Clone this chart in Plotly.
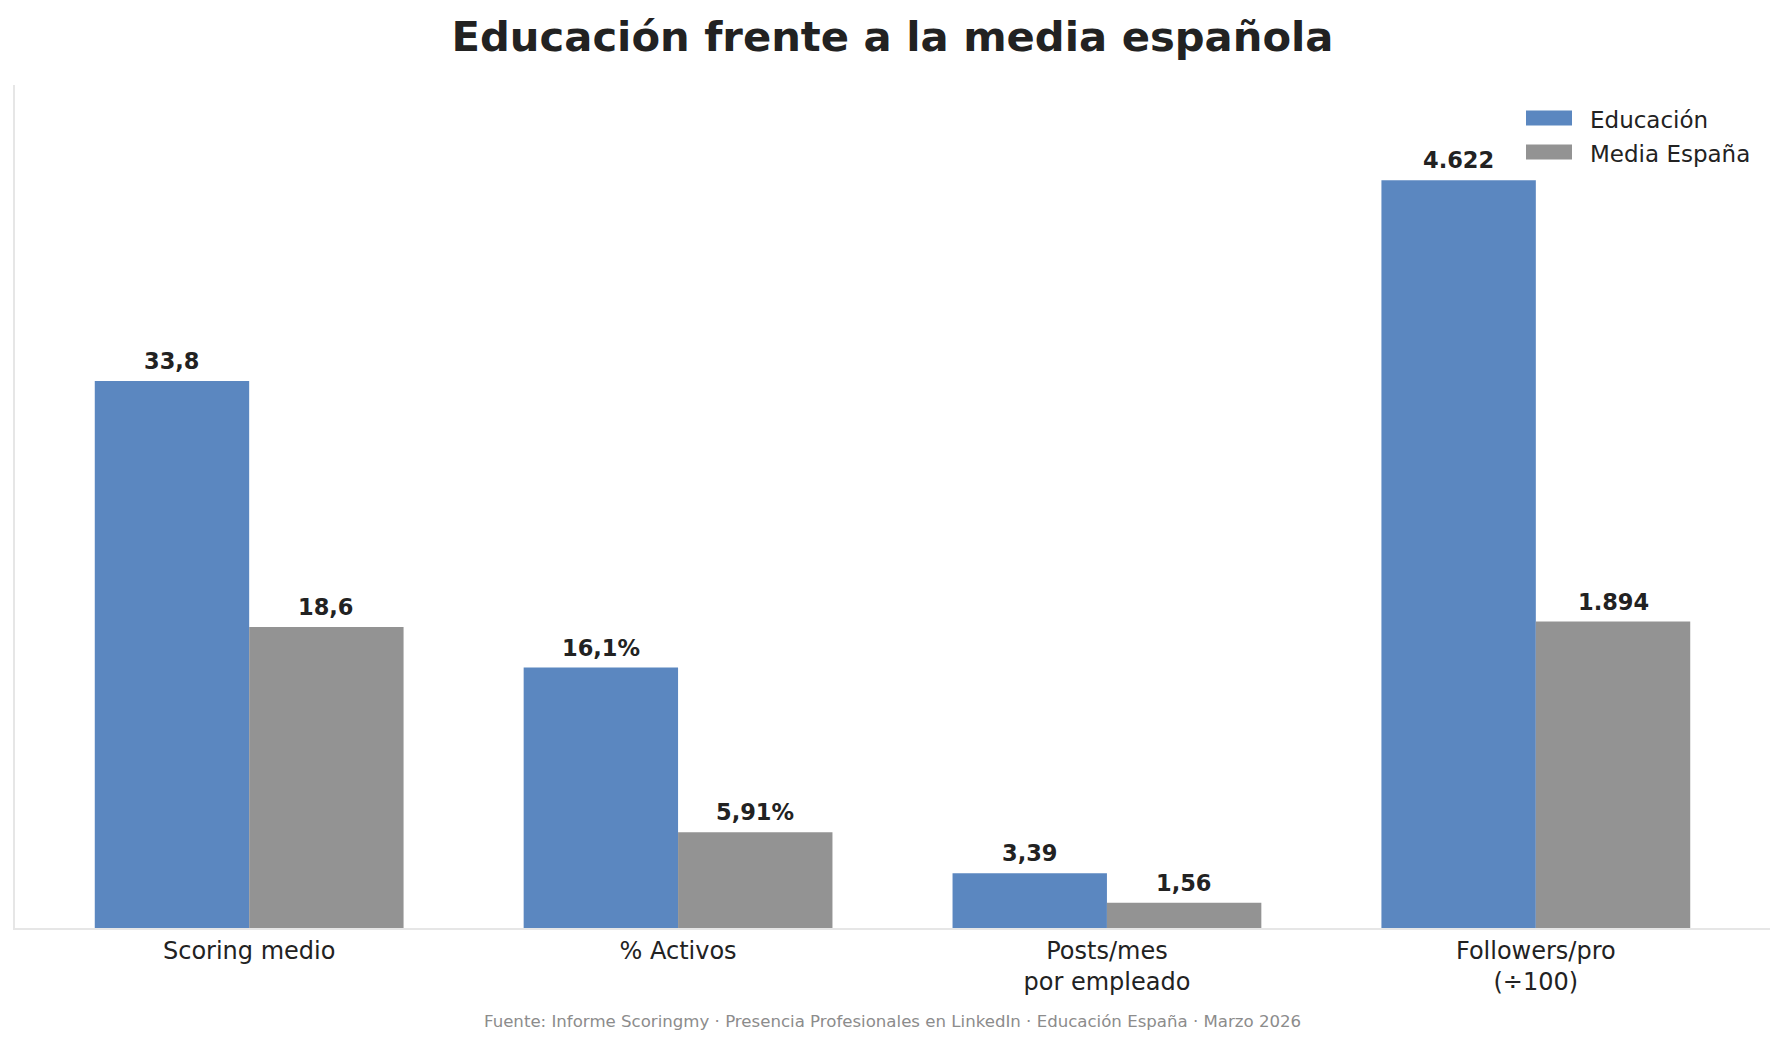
import plotly.graph_objects as go

categories = ["Scoring medio", "% Activos", "Posts/mes<br>por empleado", "Followers/pro<br>(÷100)"]
educacion = [33.8, 16.1, 3.39, 46.22]
media_espana = [18.6, 5.91, 1.56, 18.94]
educacion_labels = ["33,8", "16,1%", "3,39", "4.622"]
media_labels = ["18,6", "5,91%", "1,56", "1.894"]
series_names = ["Educación", "Media España"]
title_text = "Educación frente a la media española"
footer_text = "Fuente: Informe Scoringmy · Presencia Profesionales en LinkedIn · Educación España · Marzo 2026"

BLUE = "#5B87C0"
GREY = "#939393"
FONT = "DejaVu Sans"
W, H = 1785, 1045
L, R, T, B = 15, 15, 85, 117
BAR_W = 0.36

fig = go.Figure()
for k, (name, vals, labels, color) in enumerate([
    (series_names[0], educacion, educacion_labels, BLUE),
    (series_names[1], media_espana, media_labels, GREY),
]):
    fig.add_trace(go.Bar(
        x=categories, y=vals, name=name, marker=dict(color=color, line=dict(width=0)),
        showlegend=False, hoverinfo="x+y",
    ))
    offset = (-BAR_W / 2) if k == 0 else (BAR_W / 2)
    for i, (v, lab) in enumerate(zip(vals, labels)):
        fig.add_annotation(x=i + offset, y=v, xref="x", yref="y", text=lab, showarrow=False,
                           xanchor="center", yanchor="bottom", yshift=5,
                           font=dict(family=FONT, size=22.5, color="#222222", weight="bold"))

# custom legend (matches reference swatch shape)
plot_w = W - L - R
plot_h = H - T - B
legend_rows = [(series_names[0], BLUE, 118), (series_names[1], GREY, 152)]
for name, color, yc in legend_rows:
    x0 = (1526 - L) / plot_w
    x1 = (1572 - L) / plot_w
    y0 = 1 - (yc - 7.5 - T) / plot_h
    y1 = 1 - (yc + 7.5 - T) / plot_h
    fig.add_shape(type="rect", xref="paper", yref="paper", x0=x0, x1=x1, y0=y1, y1=y0,
                  fillcolor=color, line=dict(width=0))
    fig.add_annotation(xref="paper", yref="paper", x=(1588 - L) / plot_w, y=1 - (yc + 2 - T) / plot_h,
                       text=name, showarrow=False, xanchor="left", yanchor="middle",
                       font=dict(family=FONT, size=23, color="#222222"))

fig.add_annotation(xref="paper", yref="paper", x=0.5, y=-(1021 - (H - B)) / plot_h,
                   text=footer_text, showarrow=False, xanchor="center", yanchor="middle",
                   font=dict(family=FONT, size=16.6, color="#8c8c8c"))

fig.update_layout(
    width=W, height=H,
    margin=dict(l=L, r=R, t=T, b=B),
    paper_bgcolor="white", plot_bgcolor="white",
    barmode="group", bargap=1 - 2 * BAR_W, bargroupgap=0,
    font=dict(family=FONT, color="#222222"),
    title=dict(text=title_text, x=0.5, xanchor="center", xref="paper",
               y=1 - 36 / H, yref="container", yanchor="middle",
               font=dict(family=FONT, size=41.7, color="#222222", weight="bold")),
)
fig.update_xaxes(
    range=[-0.546, 3.546], showgrid=False, zeroline=False,
    showline=True, linecolor="#e6e6e6", linewidth=2,
    ticks="", tickfont=dict(family=FONT, size=24, color="#222222"),
)
fig.update_yaxes(
    range=[0, 52.1], showgrid=False, zeroline=False,
    showline=True, linecolor="#e6e6e6", linewidth=2,
    ticks="", showticklabels=False,
)

fig.write_html("out.html")
